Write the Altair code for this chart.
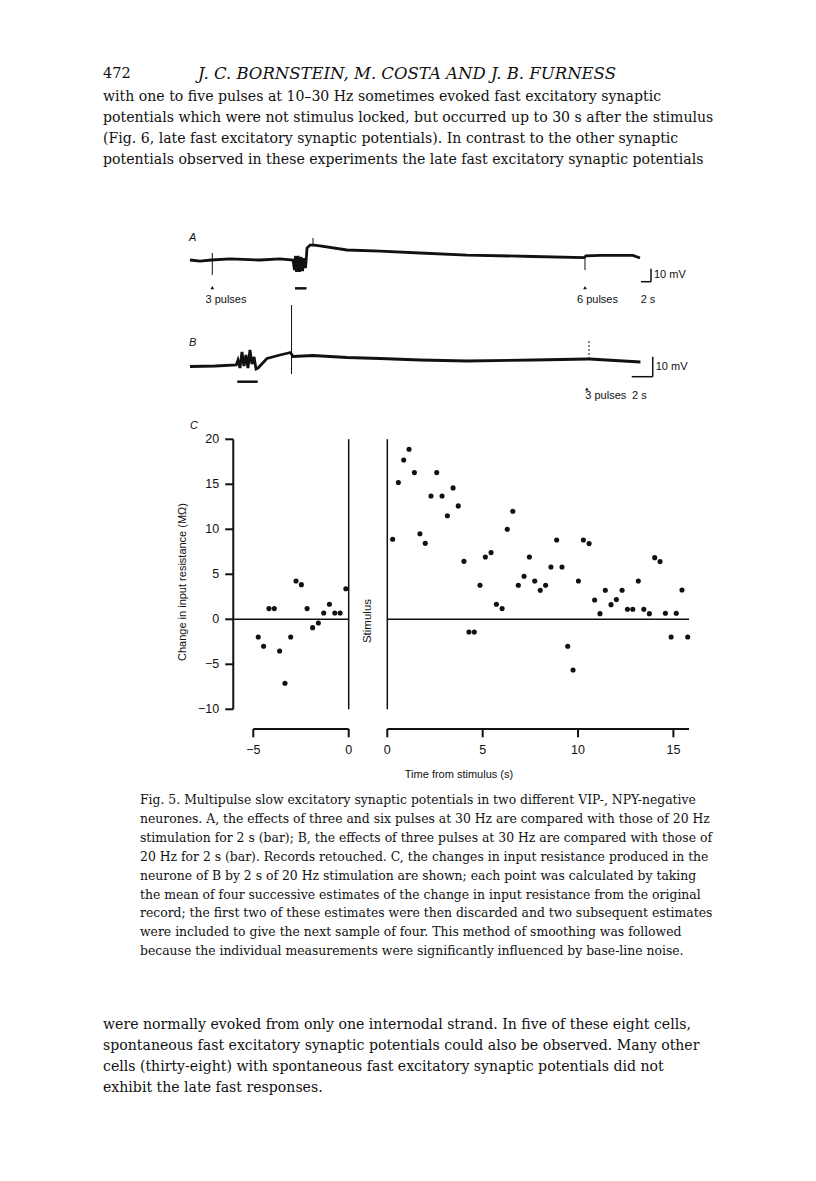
import altair as alt
import pandas as pd

# ---------------- data ----------------
# Panel C, left segment (before stimulus)
left_t = [-4.74, -4.46, -4.18, -3.90, -3.62, -3.34, -3.04, -2.76, -2.48, -2.18,
          -1.89, -1.59, -1.31, -1.01, -0.73, -0.45, -0.15]
left_r = [-1.96, -3.0, 1.19, 1.19, -3.52, -7.1, -1.96, 4.26, 3.85, 1.19,
          -0.93, -0.41, 0.70, 1.67, 0.70, 0.70, 3.40]
# Panel C, right segment (after stimulus)
right_t = [0.28, 0.58, 0.86, 1.14, 1.42, 1.71, 1.99, 2.29, 2.59, 2.87, 3.15, 3.45,
           3.72, 4.02, 4.28, 4.56, 4.86, 5.14, 5.44, 5.72, 6.02, 6.29, 6.58, 6.87,
           7.17, 7.45, 7.73, 8.02, 8.30, 8.58, 8.88, 9.16, 9.46, 9.74, 10.02, 10.28,
           10.58, 10.87, 11.15, 11.43, 11.73, 12.01, 12.31, 12.59, 12.87, 13.16,
           13.45, 13.74, 14.02, 14.30, 14.58, 14.88, 15.15, 15.45, 15.75]
right_r = [8.89, 15.2, 17.7, 18.9, 16.3, 9.5, 8.44, 13.7, 16.3, 13.7, 11.5, 14.6,
           12.6, 6.44, -1.41, -1.41, 3.78, 6.93, 7.41, 1.67, 1.19, 10.0, 12.0, 3.78,
           4.78, 6.93, 4.26, 3.22, 3.78, 5.81, 8.81, 5.81, -3.0, -5.63, 4.26, 8.81,
           8.41, 2.15, 0.63, 3.22, 1.63, 2.19, 3.22, 1.11, 1.11, 4.26, 1.11, 0.63,
           6.85, 6.41, 0.67, -1.96, 0.67, 3.26, -1.96]
y_ticks = [-10, -5, 0, 5, 10, 15, 20]
y_tick_labels = ["\u221210", "\u22125", "0", "5", "10", "15", "20"]
xl_ticks = [-5, 0]
xl_tick_labels = ["\u22125", "0"]
xr_ticks = [0, 5, 10, 15]
xr_tick_labels = ["0", "5", "10", "15"]

# Trace A (time s, membrane potential mV, coarse reading)
a_t = [0, 2, 4.3, 8, 14, 18, 20.6, 20.9, 21.1, 21.3, 21.6, 21.9, 22.2, 22.5, 22.8,
       23.1, 23.26, 23.4, 24, 24.8, 26, 31.4, 38, 46, 55.4, 68.6, 78.8, 79.2, 82,
       88.6, 90]
a_v = [0, -0.8, 0, 0.8, 0, 0.8, 0, -7.7, 3.1, -9.2, 3.1, -9.2, 2.3, -8.5, 1.5,
       -6.2, 1.5, 9.2, 11.5, 11.5, 10.8, 7.7, 6.9, 5.4, 3.8, 2.7, 1.9, 3.1, 3.5,
       3.5, 1.5]
a_spike_t = [4.46, 24.6, 79.0]
a_spike_v1 = [5.4, 11.5, 3.0]
a_spike_v2 = [-11.5, 16.9, -7.7]
# Trace B
b_t = [0, 2.4, 4.4, 4.57, 4.76, 4.95, 5.14, 5.33, 5.52, 5.71, 5.9, 6.1, 6.29, 6.48,
       7.33, 8.57, 9.57, 9.81, 11.71, 14.95, 18.1, 21.9, 26.4, 32.7, 37.9, 38.05,
       42.9]
b_v = [0, 0.25, 0.75, 3.25, -0.75, 7.25, 0.25, 5.75, -0.75, 8.25, 1.25, 4.75,
       -1.25, -0.75, 4, 5.75, 7, 5, 5.5, 4.5, 4, 3.25, 2.75, 3.25, 3.75, 3.75, 2.25]

header_num = "472"
header_auth = "J. C. BORNSTEIN, M. COSTA AND J. B. FURNESS"
para1 = [
    "with one to five pulses at 10\u201330 Hz sometimes evoked fast excitatory synaptic",
    "potentials which were not stimulus locked, but occurred up to 30 s after the stimulus",
    "(Fig. 6, late fast excitatory synaptic potentials). In contrast to the other synaptic",
    "potentials observed in these experiments the late fast excitatory synaptic potentials",
]
caption = [
    "Fig. 5. Multipulse slow excitatory synaptic potentials in two different VIP-, NPY-negative",
    "neurones. A, the effects of three and six pulses at 30 Hz are compared with those of 20 Hz",
    "stimulation for 2 s (bar); B, the effects of three pulses at 30 Hz are compared with those of",
    "20 Hz for 2 s (bar). Records retouched. C, the changes in input resistance produced in the",
    "neurone of B by 2 s of 20 Hz stimulation are shown; each point was calculated by taking",
    "the mean of four successive estimates of the change in input resistance from the original",
    "record; the first two of these estimates were then discarded and two subsequent estimates",
    "were included to give the next sample of four. This method of smoothing was followed",
    "because the individual measurements were significantly influenced by base-line noise.",
]
para2 = [
    "were normally evoked from only one internodal strand. In five of these eight cells,",
    "spontaneous fast excitatory synaptic potentials could also be observed. Many other",
    "cells (thirty-eight) with spontaneous fast excitatory synaptic potentials did not",
    "exhibit the late fast responses.",
]

# ---------------- layout ----------------
INK = "#111111"
SERIF = "DejaVu Serif"
SANS = "Liberation Sans"
ONE = pd.DataFrame({"k": [0]})

LX = alt.Scale(domain=[-5, 0], range=[245.3, 340.7], zero=False, nice=False)
RX = alt.Scale(domain=[0, 15], range=[379.3, 665.4], zero=False, nice=False)
CY = alt.Scale(domain=[-10, 20], range=[701.3, 431.3], zero=False, nice=False)
AX = alt.Scale(domain=[0, 90], range=[182, 632], zero=False, nice=False)
AY = alt.Scale(domain=[-20, 20], range=[278, 226], zero=False, nice=False)
BX = alt.Scale(domain=[0, 43], range=[182, 633.5], zero=False, nice=False)
BY = alt.Scale(domain=[-10, 30], range=[378.5, 298.5], zero=False, nice=False)

Y_AX = -6.05      # position of the y axis line (left segment units)
X_AX_Y = -12.19   # vertical position of the time axes (C units)
layers = []


def rule(sx, x, sy, y, x2=None, y2=None, w=1.5, dash=None):
    enc = dict(x=alt.X(datum=x, scale=sx, axis=None),
               y=alt.Y(datum=y, scale=sy, axis=None))
    if x2 is not None:
        enc["x2"] = alt.X2(datum=x2)
    if y2 is not None:
        enc["y2"] = alt.Y2(datum=y2)
    kw = dict(color=INK, strokeWidth=w)
    if dash:
        kw["strokeDash"] = dash
    return alt.Chart(ONE).mark_rule(**kw).encode(**enc)


def label(txt, x, y, size, font=SANS, align="left", style="normal", weight="normal",
          angle=0, baseline="middle"):
    return alt.Chart(ONE).mark_text(
        text=txt, font=font, fontSize=size, align=align, baseline=baseline,
        fontStyle=style, fontWeight=weight, angle=angle, color=INK
    ).encode(x=alt.value(x), y=alt.value(y))


def dlabel(txt, sx, x, sy, y, size=11, align="center", dx=0, dy=0):
    return alt.Chart(ONE).mark_text(
        text=txt, font=SANS, fontSize=size, align=align, baseline="middle",
        color=INK, dx=dx, dy=dy
    ).encode(x=alt.X(datum=x, scale=sx, axis=None),
             y=alt.Y(datum=y, scale=sy, axis=None))


def block(lines, x0, y0, ls, size, font=SERIF):
    n = len(lines)
    df = pd.DataFrame({"i": list(range(n)), "line": lines})
    return alt.Chart(df).mark_text(
        font=font, fontSize=size, align="left", baseline="middle", color=INK
    ).encode(
        x=alt.value(x0),
        y=alt.Y("i:Q", scale=alt.Scale(domain=[0, n - 1], range=[y0, y0 + (n - 1) * ls],
                                       zero=False, nice=False), axis=None),
        text="line:N",
    )


# ---- page text ----
layers.append(label(header_num, 95, 66, 14.5, font=SERIF))
layers.append(label(header_auth, 399, 66, 16.5, font=SERIF, align="center", style="italic"))
layers.append(block(para1, 95, 89, 21, 14.1))
layers.append(block(caption, 132, 792, 18.9, 12.4))
layers.append(block(para2, 95, 1017, 21, 14.1))

# ---- trace A ----
dfa = pd.DataFrame({"t": a_t, "v": a_v})
layers.append(alt.Chart(dfa).mark_line(color=INK, strokeWidth=2.8, interpolate="linear").encode(
    x=alt.X("t:Q", scale=AX, axis=None), y=alt.Y("v:Q", scale=AY, axis=None), order="t:Q"))
dfas = pd.DataFrame({"t": a_spike_t, "v1": a_spike_v1, "v2": a_spike_v2})
layers.append(alt.Chart(dfas).mark_rule(color=INK, strokeWidth=1).encode(
    x=alt.X("t:Q", scale=AX, axis=None), y=alt.Y("v1:Q", scale=AY, axis=None), y2="v2:Q"))
layers.append(alt.Chart(pd.DataFrame({"t": [4.46, 79.0], "v": [-21.3, -21.3]})).mark_point(
    shape="triangle-up", filled=True, size=14, color=INK, opacity=1).encode(
    x=alt.X("t:Q", scale=AX, axis=None), y=alt.Y("v:Q", scale=AY, axis=None)))
layers.append(rule(AX, 21.0, AY, -21.8, x2=23.3, w=2.5))
layers.append(rule(AX, 90.2, AY, -16.7, x2=92.2, w=1.5))
layers.append(rule(AX, 92.2, AY, -16.7, y2=-6.7, w=1.5))
layers.append(dlabel("3 pulses", AX, 7.2, AY, -30.8))
layers.append(dlabel("6 pulses", AX, 81.5, AY, -30.8))
layers.append(dlabel("2 s", AX, 91.6, AY, -30.8))
layers.append(dlabel("10 mV", AX, 92.2, AY, -11.7, align="left", dx=3))
layers.append(label("A", 181, 230, 11, style="italic"))

# ---- trace B ----
dfb = pd.DataFrame({"t": b_t, "v": b_v})
layers.append(alt.Chart(dfb).mark_line(color=INK, strokeWidth=2.8).encode(
    x=alt.X("t:Q", scale=BX, axis=None), y=alt.Y("v:Q", scale=BY, axis=None), order="t:Q"))
layers.append(rule(BX, 9.67, BY, 30.75, y2=-3.75, w=1))
layers.append(rule(BX, 38.0, BY, 3.75, y2=13.0, w=1, dash=[2, 2]))
layers.append(alt.Chart(pd.DataFrame({"t": [37.8], "v": [-11.25]})).mark_point(
    shape="triangle-up", filled=True, size=14, color=INK, opacity=1).encode(
    x=alt.X("t:Q", scale=BX, axis=None), y=alt.Y("v:Q", scale=BY, axis=None)))
layers.append(rule(BX, 4.5, BY, -7.6, x2=6.45, w=2.5))
layers.append(rule(BX, 42.07, BY, -5.1, x2=44.07, w=1.5))
layers.append(rule(BX, 44.07, BY, -5.1, y2=4.9, w=1.5))
layers.append(dlabel("3 pulses", BX, 39.6, BY, -14.6))
layers.append(dlabel("2 s", BX, 42.8, BY, -14.6))
layers.append(dlabel("10 mV", BX, 44.07, BY, -0.2, align="left", dx=3))
layers.append(label("B", 181, 335, 11, style="italic"))

# ---- panel C ----
layers.append(rule(LX, Y_AX, CY, -10, y2=20, w=2))
dfyt = pd.DataFrame({"v": y_ticks, "lab": y_tick_labels})
layers.append(alt.Chart(dfyt).mark_rule(color=INK, strokeWidth=2).encode(
    x=alt.X(datum=Y_AX, scale=LX, axis=None), x2=alt.X2(datum=Y_AX - 0.42),
    y=alt.Y("v:Q", scale=CY, axis=None)))
layers.append(alt.Chart(dfyt).mark_text(font=SANS, fontSize=12.5, align="right",
                                         baseline="middle", color=INK, dx=-14).encode(
    x=alt.X(datum=Y_AX, scale=LX, axis=None), y=alt.Y("v:Q", scale=CY, axis=None),
    text="lab:N"))
layers.append(rule(LX, Y_AX, CY, 0, x2=0, w=1.5))
layers.append(rule(LX, 0, CY, -10, y2=20, w=1.5))
layers.append(rule(RX, 0, CY, -10, y2=20, w=1.5))
layers.append(rule(RX, 0, CY, 0, x2=15.82, w=1.5))

dfl = pd.DataFrame({"t": left_t, "r": left_r})
dfr = pd.DataFrame({"t": right_t, "r": right_r})
layers.append(alt.Chart(dfl).mark_circle(size=26, color=INK, opacity=1).encode(
    x=alt.X("t:Q", scale=LX, axis=None), y=alt.Y("r:Q", scale=CY, axis=None)))
layers.append(alt.Chart(dfr).mark_circle(size=26, color=INK, opacity=1).encode(
    x=alt.X("t:Q", scale=RX, axis=None), y=alt.Y("r:Q", scale=CY, axis=None)))

# time axes
layers.append(rule(LX, -5, CY, X_AX_Y, x2=0, w=2))
layers.append(rule(RX, 0, CY, X_AX_Y, x2=15.82, w=2))
for sc, ticks, labs in [(LX, xl_ticks, xl_tick_labels), (RX, xr_ticks, xr_tick_labels)]:
    dft = pd.DataFrame({"v": ticks, "lab": labs})
    layers.append(alt.Chart(dft).mark_rule(color=INK, strokeWidth=2).encode(
        x=alt.X("v:Q", scale=sc, axis=None),
        y=alt.Y(datum=X_AX_Y, scale=CY, axis=None), y2=alt.Y2(datum=X_AX_Y - 0.92)))
    layers.append(alt.Chart(dft).mark_text(font=SANS, fontSize=12.5, align="center",
                                            baseline="middle", color=INK).encode(
        x=alt.X("v:Q", scale=sc, axis=None),
        y=alt.Y(datum=-14.55, scale=CY, axis=None), text="lab:N"))

layers.append(label("Stimulus", 360, 613, 11.5, angle=270, align="center"))
layers.append(label("Change in input resistance (M\u03a9)", 175, 574, 11, angle=270,
                    align="center"))
layers.append(label("Time from stimulus (s)", 451, 767, 11, align="center"))
layers.append(label("C", 182, 418, 11, style="italic"))

chart = alt.layer(*layers).resolve_scale(x="independent", y="independent").properties(
    width=800, height=1165, padding=0,
    autosize=alt.AutoSizeParams(type="none"),
).configure(background="white", view=alt.ViewConfig(strokeWidth=0))

chart.save("out.html", embed_options={"renderer": "svg", "actions": False})
